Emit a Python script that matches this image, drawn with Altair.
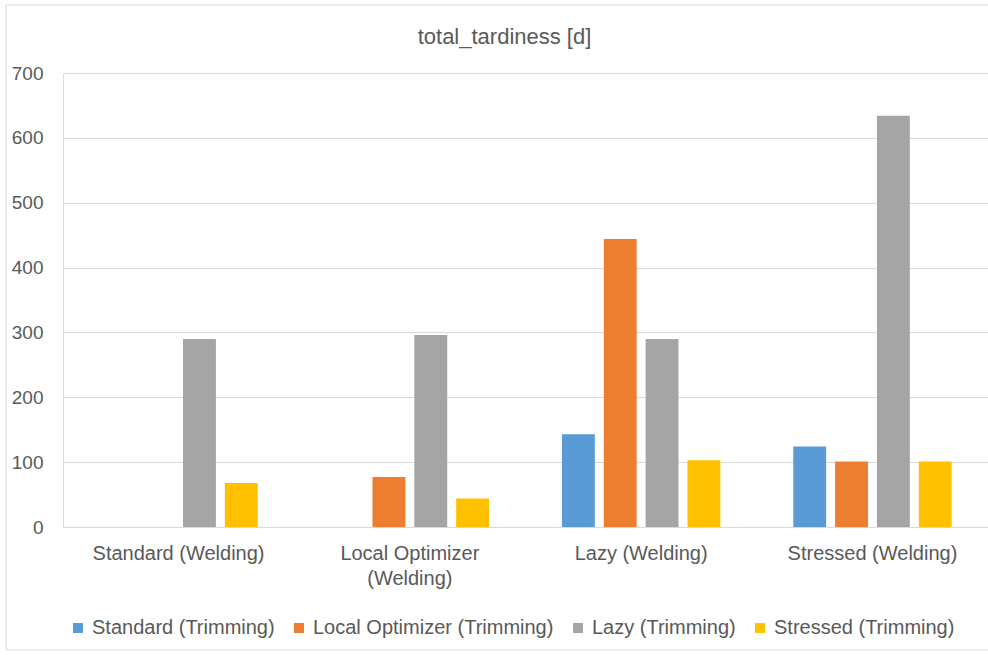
import altair as alt
import pandas as pd

categories = ["Standard (Welding)", "Local Optimizer (Welding)", "Lazy (Welding)", "Stressed (Welding)"]
series = ["Standard (Trimming)", "Local Optimizer (Trimming)", "Lazy (Trimming)", "Stressed (Trimming)"]
colors = ["#5B9BD5", "#ED7D31", "#A5A5A5", "#FFC000"]

standard_trimming = [0, 0, 143, 124]
local_optimizer_trimming = [0, 77, 444, 101]
lazy_trimming = [290, 296, 290, 634]
stressed_trimming = [68, 44, 103, 101]

y_ticks = [0, 100, 200, 300, 400, 500, 600, 700]

values_by_series = [standard_trimming, local_optimizer_trimming, lazy_trimming, stressed_trimming]
rows = []
for s, vals in zip(series, values_by_series):
    for c, v in zip(categories, vals):
        rows.append({"category": c, "series": s, "value": v})
df = pd.DataFrame(rows)

FONT = "Liberation Sans"
TXT = "#595959"
GRID = "#D9D9D9"

W, H = 925, 454

frame = alt.Chart(pd.DataFrame({"k": [0]})).mark_rect(
    filled=False, stroke=GRID, strokeWidth=1
).encode(
    x=alt.value(-57), x2=alt.value(W + 60), y=alt.value(-68), y2=alt.value(577)
)

bars = alt.Chart(df).mark_bar().encode(
    x=alt.X("category:N", sort=categories,
            scale=alt.Scale(paddingInner=0.315, paddingOuter=0.157),
            axis=alt.Axis(title=None, labelAngle=0, labelFontSize=20, labelColor=TXT,
                          labelFont=FONT, ticks=False, domain=True, domainColor=GRID,
                          domainWidth=1, labelPadding=16, labelLineHeight=25, labelLimit=400,
                          labelExpr="datum.value == 'Local Optimizer (Welding)' ? ['Local Optimizer', '(Welding)'] : datum.value")),
    xOffset=alt.XOffset("series:N", sort=series,
                        scale=alt.Scale(paddingInner=0.214, paddingOuter=0)),
    y=alt.Y("value:Q", scale=alt.Scale(domain=[0, 700]),
            axis=alt.Axis(title=None, values=y_ticks, labelFontSize=19, labelColor=TXT,
                          labelFont=FONT, ticks=False, domain=False, gridColor=GRID,
                          gridWidth=1, labelPadding=20)),
    color=alt.Color("series:N", sort=series,
                    scale=alt.Scale(domain=series, range=colors),
                    legend=alt.Legend(title=None, orient="none", legendX=5, legendY=545,
                                      direction="horizontal", symbolType="square",
                                      symbolSize=100, symbolStrokeWidth=0,
                                      labelFontSize=20, labelColor=TXT, labelFont=FONT,
                                      labelOffset=4, columnPadding=14, labelLimit=400)),
)

chart = alt.layer(frame, bars).properties(
    width=W, height=H,
    title=alt.TitleParams("total_tardiness [d]", fontSize=22, color=TXT, font=FONT,
                          fontWeight="normal", anchor="middle", frame="group",
                          baseline="alphabetic", offset=-61, dx=-21),
    autosize=alt.AutoSizeParams(type="none"),
    padding={"left": 63, "top": 73, "right": 0, "bottom": 128},
).configure_view(stroke=None).configure(background="white")

chart.save("out.html", embed_options={"renderer": "svg", "actions": False})
